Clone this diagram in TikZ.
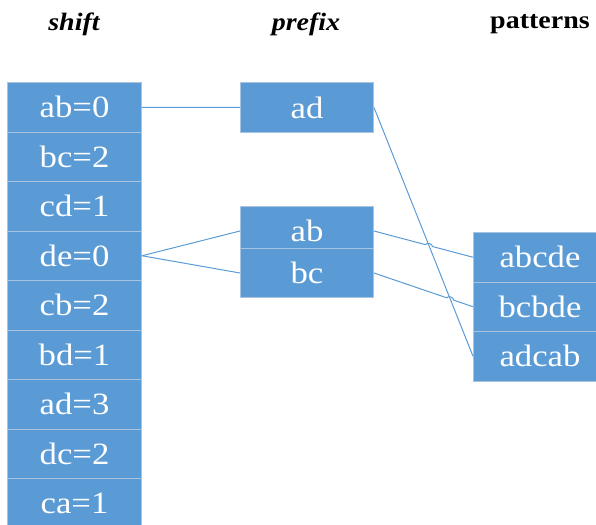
\documentclass[tikz,border=0pt]{standalone}
\usepackage{fontspec}
\setmainfont{Liberation Serif}
\newfontfamily\cellfont[FakeStretch=1.12]{Liberation Serif}
\usetikzlibrary{intersections,calc}
\definecolor{cellblue}{HTML}{5B9BD5}
\definecolor{celledge}{HTML}{A9C2DD}
\tikzset{
  cell/.style={draw=celledge, line width=1pt, fill=cellblue, text=white,
    minimum width=134pt, minimum height=49.5pt, inner sep=0pt,
    anchor=north west, font=\cellfont\fontsize{31}{31}\selectfont},
  link/.style={draw=cellblue, line width=1pt},
  head/.style={font=\cellfont\fontsize{25}{25}\selectfont\bfseries}
}
% line that hops over an already named path
\newcommand\hopline[3]{%
  \path[name path=hopA] (#1) -- (#2);
  \path[name intersections={of=hopA and #3, by=hopX}];
  \draw[link] (#1) -- ($(hopX)!3.5pt!(#1)$) to[bend left=90] ($(hopX)!3.5pt!(#2)$) -- (#2);
}

\begin{document}
\begin{tikzpicture}[x=1pt,y=-1pt]
  \clip (0,0) rectangle (596,524);
  % headers
  \node[head] (hshift) at (74,24) {\itshape shift};
  \node[head] (hprefix) at (306,24) {\itshape prefix};
  \node[head] (hpat) at (540,24) {patterns};
  % shift table
  \foreach \lbl [count=\i] in {ab=0,bc=2,cd=1,de=0,cb=2,bd=1,ad=3,dc=2,ca=1}
    \node[cell] (s\i) at (7,{82+49.5*(\i-1)}) {\lbl};
  % prefix table
  \node[cell, minimum width=133pt, minimum height=50pt] (pad) at (240,82) {ad};
  \node[cell, minimum width=133pt, minimum height=49pt] (pab) at (240,206) {ab};
  \node[cell, minimum width=133pt, minimum height=49pt] (pbc) at (240,248) {bc};
  % patterns
  \foreach \lbl [count=\i] in {abcde,bcbde,adcab}
    \node[cell, minimum width=133pt] (t\i) at (473,{232+49.5*(\i-1)}) {\lbl};
  % links
  \draw[link] (s1.east) -- (pad.west);
  \draw[link] (s4.east) -- (pab.west);
  \draw[link] (s4.east) -- (pbc.west);
  \draw[link, name path=adline] (pad.east) -- (t3.west);
  \hopline{pab.east}{t1.west}{adline}
  \hopline{pbc.east}{t2.west}{adline}
\end{tikzpicture}
\end{document}
